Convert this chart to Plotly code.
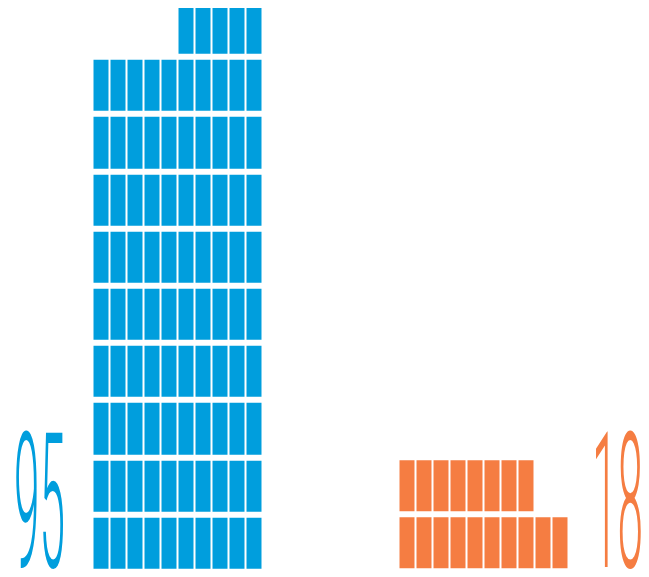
import plotly.graph_objects as go

# ---- data ----
groups = ["Blue", "Orange"]
counts = [95, 18]
labels = ["95", "18"]
colors = ["#009EDD", "#F57D42"]
per_row = 10
partial_align = ["right", "left"]   # how the last, partial row is aligned
col_offset = [0, 18]                # column offset of each group on the shared grid


def unit_grid(n, width, align):
    rows = (n + width - 1) // width
    z = []
    for r in range(rows):
        filled = min(width, n - r * width)
        row = [None] * width
        if align == "right":
            idx = range(width - filled, width)
        else:
            idx = range(filled)
        for i in idx:
            row[i] = 1
        z.append(row)
    return z


fig = go.Figure()
for g, n, c, al, off in zip(groups, counts, colors, partial_align, col_offset):
    z = unit_grid(n, per_row, al)
    fig.add_trace(go.Heatmap(
        z=z,
        x=[off + i for i in range(per_row)],
        y=list(range(len(z))),
        colorscale=[[0, c], [1, c]],
        zmin=0, zmax=1,
        showscale=False,
        xgap=2, ygap=6,
        hoverinfo="skip",
        name=g,
    ))

ann_x = [0.0616, 0.9515]
for lab, c, ax in zip(labels, colors, ann_x):
    fig.add_annotation(
        text=lab, x=ax, xref="paper", y=0, yref="paper",
        xanchor="center", yanchor="bottom", showarrow=False,
        font=dict(family="Roboto, sans-serif", size=46, weight=300, color=c),
        yshift=-3,
    )

fig.update_layout(
    width=649, height=577,
    margin=dict(l=0, r=0, t=8, b=0),
    paper_bgcolor="white", plot_bgcolor="white",
    showlegend=False,
    xaxis=dict(range=[-5.941, 32.235], visible=False, fixedrange=True),
    yaxis=dict(range=[-0.5945, 9.355], visible=False, fixedrange=True),
)

post = """
document.body.style.margin = '0';
document.body.style.padding = '0';
var gd = document.getElementById('{plot_id}');
var K = 4.1;
gd.querySelectorAll('text.annotation-text').forEach(function(t){
  var base = parseFloat(t.getAttribute('y')) || 0;
  var prev = t.getAttribute('transform') || '';
  t.setAttribute('transform', prev + ' translate(0,' + base + ') scale(1,' + K + ') translate(0,' + (-base) + ')');
});
"""

fig.write_html("out.html", post_script=post, config={"displayModeBar": False})
